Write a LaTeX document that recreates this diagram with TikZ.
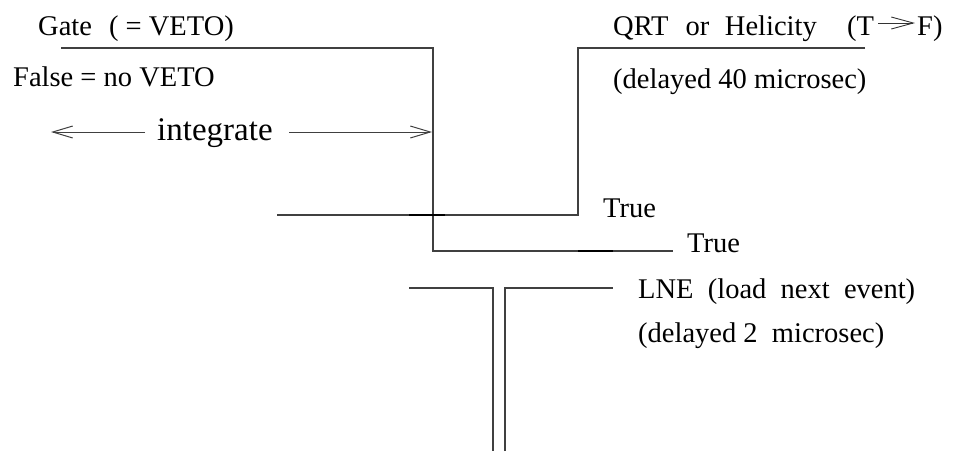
\documentclass[tikz,border=0pt]{standalone}
\usepackage{fontspec}
\setmainfont{Liberation Serif}
\usetikzlibrary{arrows.meta}
\begin{document}
\begin{tikzpicture}[x=1pt,y=-1pt,
  txt/.style={anchor=base west,inner sep=0pt,font=\fontsize{28.5}{34}\selectfont},
  bigtxt/.style={anchor=base west,inner sep=0pt,font=\fontsize{33}{40}\selectfont},
  sig/.style={line width=1.1pt,black!75},
  dark/.style={line width=1.3pt,black},
  barb/.style={line width=1pt,black!75,-{Straight Barb[length=20pt,width=12pt,line width=1pt]}}]
\useasboundingbox (0,0) rectangle (956,451);
% texts
\node[txt] (gate) at (38,35) {Gate\hspace{0.35em} ( = VETO)};
\node[txt] (false) at (13,86) {False = no VETO};
\node[bigtxt] (integ) at (157,140) {integrate};
\node[txt] (qrt) at (613,35) {QRT\hspace{0.35em} or\hspace{0.3em} Helicity};
\node[txt] (tpar) at (847,35) {(T};
\node[txt] (fpar) at (917,35) {F)};
\node[txt] (del40) at (613,88) {(delayed 40 microsec)};
\node[txt] (true1) at (603,217) {True};
\node[txt] (true2) at (687,252) {True};
\node[txt] (lne) at (638,298) {LNE\ \ (load\ \ next\ \ event)};
\node[txt] (del2) at (638,342) {(delayed 2\ \ microsec)};
% coordinates
\coordinate (g0) at (61,48);
\coordinate (g1) at (433,48);
\coordinate (g2) at (433,251);
\coordinate (g3) at (673,251);
\coordinate (q0) at (865,48);
\coordinate (q1) at (578,48);
\coordinate (q2) at (578,215);
\coordinate (q3) at (277,215);
\coordinate (l0) at (409,288);
\coordinate (l1) at (493,288);
\coordinate (l2) at (493,451);
\coordinate (r0) at (505,451);
\coordinate (r1) at (505,288);
\coordinate (r2) at (613,288);
\coordinate (al0) at (145,132);
\coordinate (al1) at (51,132);
\coordinate (ar0) at (289,132);
\coordinate (ar1) at (432,132);
\coordinate (tf0) at (878,23);
\coordinate (tf1) at (915,23);
% signals
\draw[sig] (g0) -- (g1) -- (g2) -- (g3);
\draw[sig] (q0) -- (q1) -- (q2) -- (q3);
\draw[sig] (l0) -- (l1) -- (l2);
\draw[sig] (r0) -- (r1) -- (r2);
\draw[dark] (409,215) -- (445,215);
\draw[dark] (578,251) -- (613,251);
% arrows
\draw[barb] (al0) -- (al1);
\draw[barb] (ar0) -- (ar1);
\draw[line width=0.9pt,black!80,-{Straight Barb[length=22pt,width=12pt,line width=0.9pt]}] (tf0) -- (tf1);
\end{tikzpicture}
\end{document}
